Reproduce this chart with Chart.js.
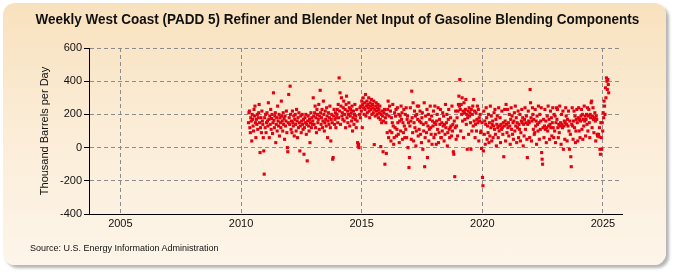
<!DOCTYPE html>
<html>
<head>
<meta charset="utf-8">
<script src="https://cdn.jsdelivr.net/npm/chart.js@4.4.1/dist/chart.umd.min.js"></script>
<style>
  html, body { margin:0; padding:0; background:#ffffff; }
  #panel {
    position:absolute; left:3px; top:3px; width:663px; height:262px;
    border-radius:12px;
    background: linear-gradient(to bottom, #f8e1bd 0%, #fbecd6 45%, #fdf5e9 100%);
    box-shadow: 3px 3px 3px rgba(120,120,120,0.55);
  }
  #wrap { position:absolute; left:0; top:0; width:675px; height:275px; }
  #title {
    position:absolute; left:0; top:10px; width:675px; text-align:center;
    font-family:"Liberation Sans Narrow","Liberation Sans",Arial,sans-serif;
    font-weight:bold; font-size:15px; color:#111;
    transform: scaleX(0.9); transform-origin: 337px 0;
  }
  #source {
    position:absolute; left:30px; top:243px;
    font-family:"Liberation Sans",Arial,sans-serif; font-size:9px; color:#111;
  }
</style>
</head>
<body>
<div id="panel"></div>
<div id="wrap"><canvas id="c" width="675" height="275"></canvas></div>
<div id="title">Weekly West Coast (PADD 5) Refiner and Blender Net Input of Gasoline Blending Components</div>
<div id="source">Source: U.S. Energy Information Administration</div>
<script>
// ---- data (thousand barrels per day, weekly) ----
const firstWeek = 2010.31;           // decimal year of first weekly observation
const weekStep = 7 / 365.25;         // one week in years
const xTickYears = [2005, 2010, 2015, 2020, 2025];
const yTickValues = [-400, -200, 0, 200, 400, 600];

const v2010 = [150,210,220,120,90,180,160,40,200,170,130,100,230,190,250,150,60,170,140,200,110,180,210,260,150,-30,120,180,90,220,160,140,60,-20,-160];
const v2011 = [180,120,200,90,150,210,160,130,270,170,60,190,140,230,110,175,200,85,150,330,165,120,190,210,30,140,180,100,250,160,130,200,70,180,150,120,280,190,160,100,210,140,175,50,190,130,160,220,90,0,-25,150];
const v2012 = [320,180,140,370,200,110,160,90,220,150,130,190,70,170,200,140,100,230,160,60,180,120,210,150,-20,130,190,90,160,200,140,110,170,-40,120,180,150,200,80,140,-80,160,190,130,100,170,30,150,210,120,180,140];
const v2013 = [160,300,190,140,210,250,120,180,90,230,200,150,170,260,110,190,345,210,140,180,230,120,160,280,200,100,150,220,170,130,240,190,60,160,210,140,180,250,120,40,170,200,150,-70,-60,190,230,140,170,210,120,180];
const v2014 = [200,230,150,260,180,420,220,330,140,250,300,190,210,170,240,280,160,200,230,120,260,310,180,220,150,200,270,240,130,190,230,210,160,250,100,180,220,140,200,260,170,190,120,230,160,30,10,20,0,200,240,180];
const v2015 = [250,220,280,120,260,300,240,200,270,230,320,190,250,280,210,260,240,300,220,180,270,250,230,290,200,260,240,210,280,18,230,190,250,270,220,200,240,260,180,230,210,250,170,6,200,150,220,190,-25,160,210,230];
const v2016 = [-100,180,150,-35,200,90,230,280,60,190,250,100,220,40,180,90,150,260,130,20,60,210,120,190,230,70,110,240,150,80,200,30,160,190,100,250,170,210,50,150,90,230,130,60,200,110,240,60,170,190,0,150];
const v2017 = [-120,-60,130,240,160,50,340,180,90,270,40,150,220,120,190,10,100,200,250,170,70,250,110,160,220,80,150,30,180,210,-10,140,100,270,-115,60,190,150,90,230,-60,130,200,40,110,170,250,120,80,190,20,160];
const v2018 = [130,220,60,150,250,80,140,20,160,200,110,240,30,90,170,140,230,60,60,150,100,210,130,190,40,140,80,260,120,150,200,10,90,170,230,110,60,120,180,130,70,250,100,140,-25,-40,160,-175,120,220,50,130];
const v2019 = [180,70,220,260,310,250,410,230,100,260,200,300,160,220,60,270,210,170,230,290,140,200,-10,180,220,80,240,190,210,150,-10,230,100,200,250,130,290,160,220,60,140,210,100,170,250,150,230,40,180,160,200,90];
const v2020 = [100,-5,150,-180,-230,-20,220,80,160,20,140,240,180,50,130,90,200,30,150,70,250,120,190,40,140,160,60,130,210,110,230,80,170,10,140,190,120,60,240,100,130,180,30,140,110,220,120,80,150,-55,130,230];
const v2021 = [160,40,260,140,90,230,120,150,70,200,130,20,170,240,110,190,80,150,50,160,210,100,250,130,180,30,150,120,220,60,140,110,200,40,90,160,230,150,180,10,140,70,170,240,110,150,190,50,-60,140,220,160];
const v2022 = [150,60,350,270,180,40,160,240,200,110,170,80,90,230,130,160,20,190,140,100,250,150,50,200,110,160,240,-30,-70,-100,120,170,60,130,230,110,160,30,120,190,100,250,130,170,50,140,220,120,180,70,150,240];
const v2023 = [120,60,200,100,190,30,150,240,170,230,120,60,140,90,250,130,150,20,200,140,120,220,-10,130,160,50,150,240,190,140,40,170,130,220,100,-10,160,80,-55,-115,140,240,130,50,160,220,120,190,30,100,170,230];
const v2024 = [150,40,180,240,100,170,60,160,190,230,110,200,50,170,130,250,160,190,70,170,200,140,240,100,190,230,150,60,200,180,270,280,120,190,240,170,90,180,210,160,40,190,170,80,70,75,80,65,120,-10,-40,150];
const v2025 = [60,-10,150,100,210,180,280,250,200,360,300,420,400,350,410,380,330];

const weeklyValues = [].concat(v2010, v2011, v2012, v2013, v2014, v2015, v2016, v2017,
  v2018, v2019, v2020, v2021, v2022, v2023, v2024, v2025);
const points = weeklyValues.map((v, i) => ({ x: firstWeek + i * weekStep, y: v }));

const tickFont = { family: '"Liberation Sans", Arial, sans-serif', size: 11 };
const gridDash = [4, 3];

new Chart(document.getElementById('c'), {
  type: 'scatter',
  data: {
    datasets: [{
      data: points,
      pointStyle: 'rect',
      pointRadius: 2.2,
      pointHoverRadius: 2.2,
      borderWidth: 0,
      backgroundColor: '#e3000f',
      borderColor: '#e3000f'
    }]
  },
  options: {
    responsive: false,
    animation: false,
    events: [],
    layout: { padding: { left: 38, right: 53, top: 48, bottom: 36 } },
    plugins: { legend: { display: false }, tooltip: { enabled: false }, title: { display: false } },
    scales: {
      x: {
        type: 'linear',
        min: 2003.7,
        max: 2025.79,
        afterBuildTicks: s => { s.ticks = xTickYears.map(v => ({ value: v })); },
        afterFit: s => { s.height = 25; },
        ticks: { font: tickFont, color: '#111', padding: 3, maxRotation: 0, autoSkip: false, callback: v => String(v) },
        grid: { color: '#8c8c8c', lineWidth: 1, drawTicks: false, tickLength: 0 },
        border: { display: true, color: '#000', width: 1, dash: gridDash },
      },
      y: {
        min: -400,
        max: 600,
        afterBuildTicks: s => { s.ticks = yTickValues.map(v => ({ value: v })); },
        afterFit: s => { s.width = 51; },
        ticks: { font: tickFont, color: '#111', padding: 2, autoSkip: false },
        grid: { color: '#8c8c8c', lineWidth: 1, tickLength: 5, tickColor: '#000', tickBorderDash: [] },
        border: { display: true, color: '#000', width: 1, dash: gridDash },
        title: {
          display: true,
          text: 'Thousand Barrels per Day',
          font: { family: '"Liberation Sans", Arial, sans-serif', size: 11 },
          color: '#111',
          padding: { top: 0, bottom: 4 }
        }
      }
    }
  }
});
</script>
</body>
</html>
